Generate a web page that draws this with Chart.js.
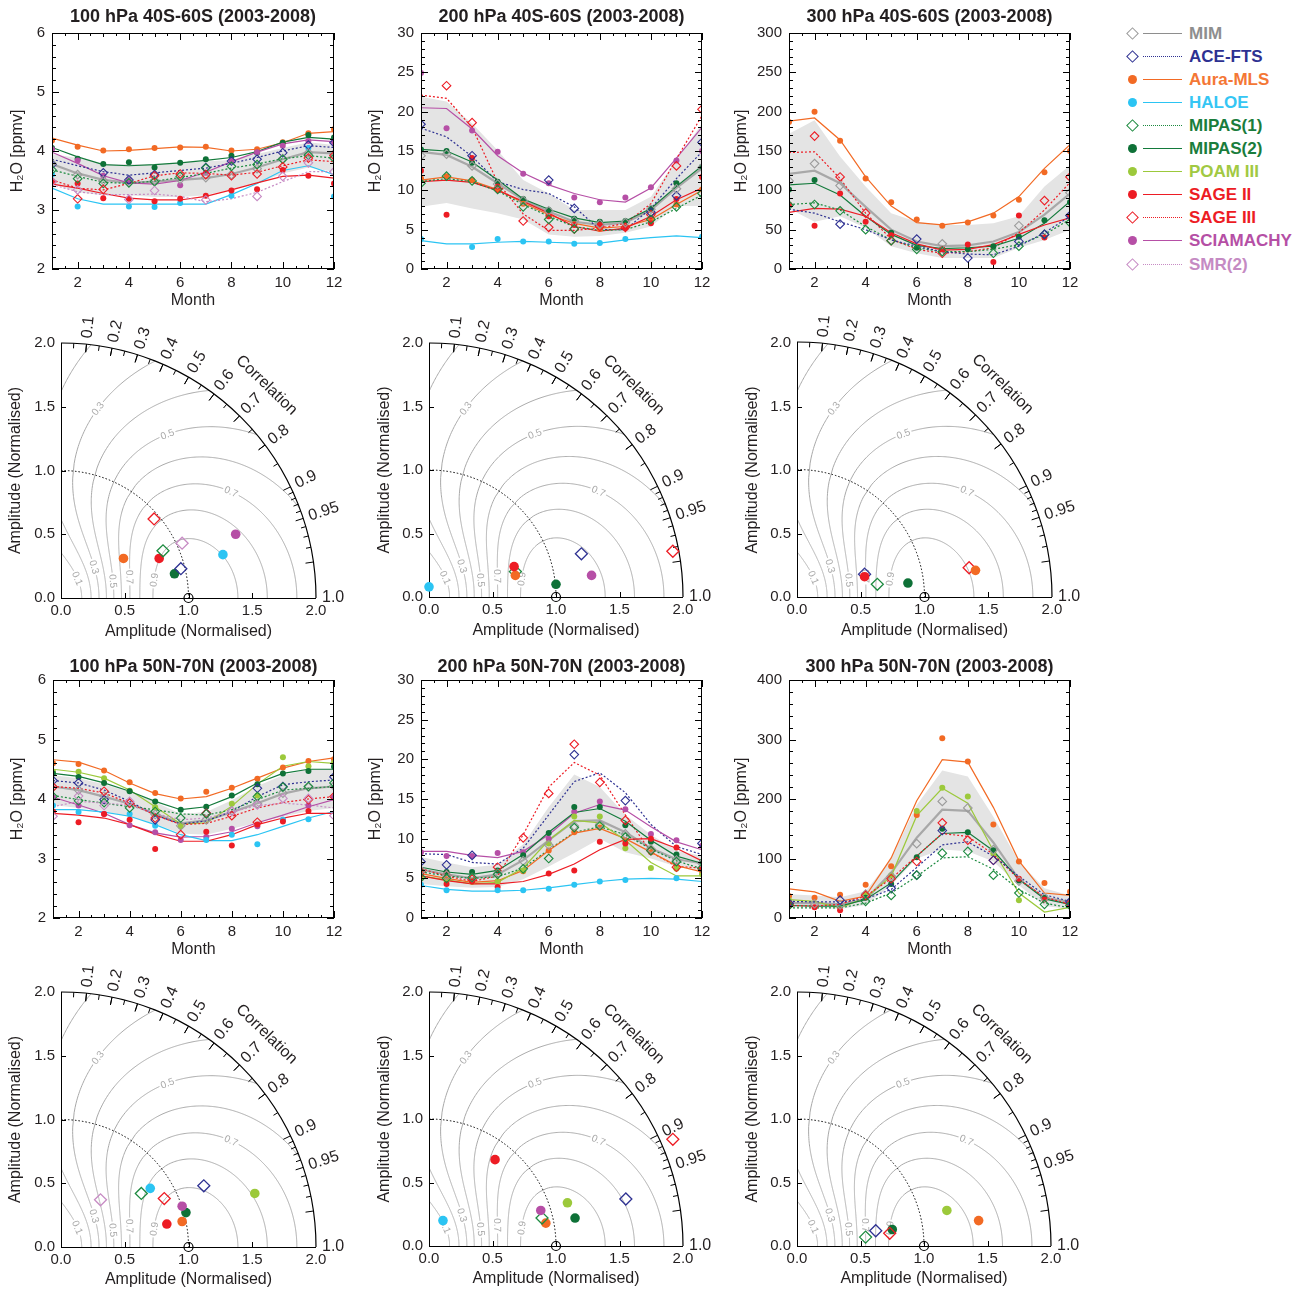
<!DOCTYPE html>
<html><head><meta charset="utf-8">
<script src="https://cdn.jsdelivr.net/npm/chart.js@4.4.1/dist/chart.umd.min.js"></script>
<style>
body{margin:0;background:#fff;}
#page{position:relative;width:1309px;height:1290px;background:#fff;overflow:hidden;font-family:"Liberation Sans",Arial,sans-serif;}
canvas{position:absolute;}
.lg{position:absolute;left:1120px;height:23px;width:190px;}
.lg .ln{position:absolute;left:23px;width:39px;top:11px;height:0;}
.lg .tx{position:absolute;left:69px;top:0;font-weight:bold;font-size:17px;line-height:23px;white-space:nowrap;}
</style></head><body><div id="page"></div>
<script>
// ---------------- data ----------------
const MONTHS = [1,2,3,4,5,6,7,8,9,10,11,12];
const INSTRUMENTS = ['MIM','ACE-FTS','Aura-MLS','HALOE','MIPAS(1)','MIPAS(2)','POAM III','SAGE II','SAGE III','SCIAMACHY','SMR(2)'];

// Panel A: 100 hPa 40S-60S
const A_MIM_fit=[3.78,3.62,3.51,3.46,3.48,3.51,3.54,3.61,3.72,3.86,3.98,3.96];
const A_MIM_obs=[3.79,3.6,3.5,3.47,3.5,3.52,3.55,3.6,3.7,3.87,3.97,3.95];
const A_MIM_hi=[3.95,3.88,3.78,3.78,3.77,3.8,3.82,3.85,3.95,4.05,4.15,4.1];
const A_MIM_lo=[3.45,3.3,3.25,3.25,3.22,3.22,3.25,3.35,3.45,3.62,3.72,3.65];
const A_ACE_fit=[3.86,3.75,3.65,3.59,3.63,3.67,3.71,3.79,3.89,4.0,4.09,4.06];
const A_ACE_obs=[3.77,null,3.63,3.51,3.6,null,3.72,3.83,3.86,3.97,4.1,4.14];
const A_MLS_fit=[4.22,4.1,4.0,4.01,4.04,4.07,4.06,4.0,4.03,4.14,4.3,4.33];
const A_MLS_obs=[4.18,4.07,4.01,4.03,4.05,4.06,4.07,4.01,4.03,4.15,4.3,4.37];
const A_HAL_fit=[3.37,3.19,3.1,3.1,3.1,3.1,3.1,3.26,3.45,3.67,3.75,3.6];
const A_HAL_obs=[3.6,3.06,null,3.06,3.05,3.12,null,3.24,null,null,4.05,3.23];
const A_MP1_fit=[3.68,3.57,3.47,3.45,3.49,3.55,3.62,3.71,3.78,3.87,3.92,3.88];
const A_MP1_obs=[3.68,3.53,3.45,3.46,3.48,3.57,3.71,3.74,3.77,3.86,3.93,3.88];
const A_MP2_fit=[4.06,3.9,3.77,3.75,3.77,3.8,3.84,3.89,3.99,4.15,4.23,4.2];
const A_MP2_obs=[4.05,3.87,3.78,3.81,3.72,3.8,3.86,3.92,3.97,4.14,4.27,4.23];
const A_SG2_fit=[3.44,3.37,3.28,3.2,3.17,3.17,3.23,3.34,3.46,3.57,3.59,3.54];
const A_SG2_obs=[3.48,3.45,3.2,3.19,3.15,3.19,3.24,3.33,3.35,3.68,3.58,3.45];
const A_SG3_fit=[3.51,3.37,3.34,3.45,3.58,3.63,3.62,3.59,3.64,3.75,3.85,3.82];
const A_SG3_obs=[3.48,3.19,3.35,null,3.58,3.61,3.6,3.58,3.61,3.73,3.88,3.92];
const A_SCI_fit=[3.98,3.79,3.58,3.46,3.44,3.5,3.64,3.82,3.98,4.12,4.19,4.16];
const A_SCI_obs=[4.03,3.84,3.58,3.51,null,3.42,3.63,3.83,3.98,4.09,4.17,4.15];
const A_SMR_fit=[3.43,3.31,3.26,3.26,3.27,3.23,3.14,3.19,3.3,3.48,3.65,3.65];
const A_SMR_obs=[3.48,3.34,null,3.18,3.33,null,3.17,null,3.23,3.57,3.8,3.65];

// Panel B: 200 hPa 40S-60S
const B_MIM_fit=[14.9,14.5,13.0,10.9,8.8,7.3,6.0,5.6,5.9,7.5,10.3,12.8];
const B_MIM_obs=[14.4,14.6,13.1,10.8,8.7,7.4,6.1,5.7,5.9,7.6,10.2,12.9];
const B_MIM_hi=[21.9,21.3,18.5,15.1,11.3,9.6,7.5,7.5,7.5,9.2,13.9,18.5];
const B_MIM_lo=[7.9,8.4,7.7,7.1,6.3,4.4,4.1,4.2,4.6,5.4,8.0,8.0];
const B_ACE_fit=[17.9,16.8,14.3,11.1,10.1,9.6,7.9,5.0,5.0,7.7,11.5,14.9];
const B_ACE_obs=[18.4,null,14.4,null,null,11.3,7.7,null,null,7.2,9.3,16.1];
const B_MLS_fit=[11.3,11.7,11.2,10.1,8.4,6.9,5.8,5.2,5.4,6.3,8.2,10.0];
const B_MLS_obs=[11.5,11.8,11.3,10.1,8.3,6.7,5.7,5.1,5.3,6.3,8.2,10.1];
const B_HAL_fit=[3.6,3.2,3.2,3.4,3.5,3.4,3.3,3.3,3.7,4.0,4.2,4.0];
const B_HAL_obs=[3.8,null,2.8,3.8,3.5,3.5,3.2,3.3,3.8,null,null,4.1];
const B_MP1_fit=[11.1,11.5,11.1,9.9,8.2,6.7,5.4,4.9,5.0,6.0,7.7,9.4];
const B_MP1_obs=[10.9,11.8,11.2,10.1,7.9,6.3,5.1,null,null,6.3,7.9,9.6];
const B_MP2_fit=[15.2,15.0,13.6,11.3,8.9,7.6,6.5,5.9,6.1,7.7,10.5,13.1];
const B_MP2_obs=[15.2,15.0,13.5,11.1,8.9,7.5,6.4,6.0,6.1,7.7,10.9,13.0];
const B_SG2_fit=[11.1,11.3,11.0,10.0,8.6,7.1,5.4,4.8,5.2,6.7,8.8,10.3];
const B_SG2_obs=[12.5,6.9,14.1,10.5,null,6.7,5.6,5.6,5.2,5.8,8.9,11.7];
const B_SG3_fit=[22.1,21.7,18.0,11.0,7.0,4.9,4.9,5.2,5.8,8.3,14.0,19.5];
const B_SG3_obs=[null,23.3,18.6,10.2,6.1,5.3,5.1,5.4,5.3,6.9,13.1,20.3];
const B_SCI_fit=[20.5,20.4,17.8,14.4,12.2,10.7,9.6,8.8,8.5,10.3,14.1,18.0];
const B_SCI_obs=[24.9,17.9,17.6,14.9,12.1,10.9,9.1,8.5,9.1,10.4,13.8,15.0];

// Panel C: 300 hPa 40S-60S
const C_MIM_fit=[121,125,109,79,50,35,29,30,35,47,69,96];
const C_MIM_obs=[112,134,106,null,null,null,32,null,null,55,null,97];
const C_MIM_hi=[172,189,143,105,71,60,56,56,58,67,105,132];
const C_MIM_lo=[77,60,67,52,29,20,14,14,14,27,37,50];
const C_ACE_fit=[76,71,60,50,37,29,22,19,18,29,46,67];
const C_ACE_obs=[null,null,57,null,null,38,null,14,null,35,44,68];
const C_MLS_fit=[188,192,164,117,80,59,56,60,71,92,128,158];
const C_MLS_obs=[187,200,163,115,85,63,55,59,68,88,123,150];
const C_MP1_fit=[82,84,75,54,37,27,22,22,25,31,44,63];
const C_MP1_obs=[81,82,74,50,36,25,22,null,20,29,44,59];
const C_MP2_fit=[107,109,94,67,44,30,26,27,29,39,58,86];
const C_MP2_obs=[101,113,null,null,46,27,25,25,29,41,62,85];
const C_SG2_fit=[72,77,76,67,46,32,24,25,31,44,56,65];
const C_SG2_obs=[82,55,96,60,43,null,25,31,9,68,40,67];
const C_SG3_fit=[148,149,115,71,38,25,20,22,27,46,75,110];
const C_SG3_obs=[null,169,117,71,36,null,20,null,null,null,87,117];

// Panel D: 100 hPa 50N-70N
const D_MIM_fit=[4.21,4.15,4.04,3.92,3.75,3.59,3.64,3.78,3.93,4.09,4.18,4.21];
const D_MIM_obs=[4.2,4.15,4.05,3.93,3.74,3.55,3.65,3.8,3.92,4.1,4.2,4.22];
const D_MIM_hi=[4.4,4.35,4.25,4.12,3.95,3.75,3.78,3.98,4.22,4.4,4.5,4.5];
const D_MIM_lo=[3.9,3.85,3.8,3.7,3.58,3.42,3.4,3.5,3.6,3.7,3.8,3.85];
const D_ACE_fit=[4.31,4.27,4.15,3.96,3.73,3.58,3.63,3.79,4.04,4.24,4.29,4.32];
const D_ACE_obs=[4.31,4.27,3.99,null,3.65,null,3.76,null,4.18,4.21,null,4.37];
const D_MLS_fit=[4.66,4.62,4.48,4.27,4.09,4.0,4.04,4.18,4.35,4.52,4.63,4.69];
const D_MLS_obs=[4.6,4.59,4.48,4.28,4.1,4.01,4.12,4.19,4.34,4.53,4.64,4.67];
const D_HAL_fit=[3.82,3.82,3.78,3.71,3.57,3.4,3.3,3.3,3.4,3.54,3.68,3.79];
const D_HAL_obs=[3.89,3.78,null,3.75,3.55,null,3.31,3.4,3.24,3.65,3.66,null];
const D_MP1_fit=[4.06,3.99,3.93,3.87,3.82,3.75,3.73,3.82,3.99,4.15,4.18,4.21];
const D_MP1_obs=[4.04,3.97,3.94,3.85,3.79,3.68,3.75,null,4.04,4.2,4.21,4.27];
const D_MP2_fit=[4.43,4.38,4.27,4.13,3.96,3.82,3.87,4.04,4.27,4.43,4.5,4.5];
const D_MP2_obs=[4.43,4.37,4.27,4.13,3.96,3.82,3.87,4.06,4.25,4.43,4.47,4.54];
const D_POAM_fit=[4.5,4.45,4.35,4.15,3.87,3.58,3.6,3.88,4.25,4.55,4.63,4.6];
const D_POAM_obs=[4.46,4.46,4.35,4.14,3.86,3.54,null,3.92,4.06,4.7,4.55,4.61];
const D_SG2_fit=[3.76,3.73,3.68,3.57,3.41,3.29,3.29,3.4,3.57,3.68,3.76,3.76];
const D_SG2_obs=[3.79,3.61,3.75,3.65,3.16,null,3.45,3.22,3.57,3.62,3.8,null];
const D_SG3_fit=[4.21,4.18,4.1,3.93,3.73,3.57,3.59,3.71,3.85,3.94,4.0,4.04];
const D_SG3_obs=[4.2,null,4.13,3.93,3.68,3.4,3.76,3.72,3.61,null,3.99,4.04];
const D_SCI_fit=[4.03,3.9,3.76,3.57,3.43,3.36,3.37,3.45,3.6,3.73,3.87,3.99];
const D_SCI_obs=[4.03,3.89,3.75,3.56,3.44,3.31,3.36,3.5,3.54,3.65,3.89,4.03];
const D_SMR_fit=[3.87,3.96,3.93,3.9,3.76,3.65,3.68,3.78,3.89,3.93,3.9,3.85];
const D_SMR_obs=[3.71,4.05,3.89,3.96,null,null,null,3.79,3.9,4.01,4.01,3.72];

// Panel E: 200 hPa 50N-70N
const E_MIM_fit=[6.1,5.5,5.0,5.5,7.3,9.8,12.2,12.3,10.8,8.8,7.4,6.9];
const E_MIM_obs=[6.0,5.4,5.1,5.6,7.2,9.2,11.6,11.8,10.6,8.7,7.3,6.9];
const E_MIM_hi=[7.7,7.0,6.4,6.7,9.3,14.0,18.1,16.5,13.0,10.5,8.5,7.8];
const E_MIM_lo=[4.3,4.0,3.8,3.9,4.9,6.5,8.2,10.0,8.3,7.5,6.5,6.0];
const E_ACE_fit=[8.1,8.0,7.0,6.8,8.8,13.0,17.2,18.3,15.8,11.8,9.0,8.0];
const E_ACE_obs=[7.1,6.7,7.9,null,null,null,20.6,null,14.8,null,null,9.4];
const E_MLS_fit=[5.6,5.0,4.5,4.7,6.0,8.5,10.7,11.3,10.0,8.3,6.6,5.8];
const E_MLS_obs=[5.6,4.9,4.6,4.6,5.9,8.5,10.8,11.4,9.8,8.3,6.3,5.9];
const E_HAL_fit=[4.1,3.6,3.4,3.4,3.5,3.8,4.2,4.6,4.9,5.0,4.9,4.6];
const E_HAL_obs=[4.2,3.5,null,3.5,3.5,3.7,4.2,4.6,4.8,null,5.0,null];
const E_MP1_fit=[5.8,5.3,5.0,5.2,6.3,8.6,10.8,11.5,10.5,8.7,7.2,6.2];
const E_MP1_obs=[5.1,5.0,5.1,5.5,6.2,7.5,11.4,11.6,10.2,8.5,7.1,6.3];
const E_MP2_fit=[6.4,5.8,5.5,6.0,8.0,10.8,13.3,13.8,12.2,9.8,7.8,6.9];
const E_MP2_obs=[5.9,5.8,5.8,6.0,7.9,10.7,14.0,14.0,11.7,9.6,8.0,7.1];
const E_POAM_fit=[5.3,4.8,4.3,4.5,6.3,9.8,12.3,12.0,9.8,7.0,5.3,5.3];
const E_POAM_obs=[5.0,4.7,4.6,4.6,6.0,9.4,12.8,12.8,8.8,6.3,6.2,5.5];
const E_SG2_fit=[5.3,4.7,4.3,4.3,4.6,5.5,6.8,8.6,9.9,10.0,8.8,7.2];
const E_SG2_obs=[5.5,4.3,4.6,3.9,null,5.6,6.0,9.6,9.4,10.0,8.9,6.2];
const E_SG3_fit=[6.2,5.3,4.6,5.3,10.5,16.5,19.6,18.0,13.0,8.3,6.5,6.3];
const E_SG3_obs=[5.9,5.4,4.9,6.4,10.1,15.7,21.9,17.1,12.3,8.5,6.4,6.2];
const E_SCI_fit=[8.4,8.4,7.9,7.6,8.4,10.5,13.2,14.3,13.6,11.5,9.6,8.6];
const E_SCI_obs=[8.3,7.8,7.8,8.2,8.3,10.0,13.4,14.7,13.7,10.6,9.8,9.1];

// Panel F: 300 hPa 50N-70N
const F_MIM_fit=[25,25,23,31,76,135,182,180,127,65,34,27];
const F_MIM_obs=[24,24,22,40,70,125,196,185,115,62,34,27];
const F_MIM_hi=[40,38,35,45,100,190,248,238,170,95,50,38];
const F_MIM_lo=[18,18,15,22,55,100,115,112,95,55,20,15];
const F_ACE_fit=[28,27,27,32,48,85,123,128,104,70,39,28];
const F_ACE_obs=[25,null,30,null,50,72,147,null,97,null,null,27];
const F_MLS_fit=[49,44,28,37,101,197,266,262,186,96,42,38];
const F_MLS_obs=[37,34,39,56,87,173,302,263,157,95,59,44];
const F_MP1_fit=[17,17,17,25,42,70,101,103,82,48,25,17];
const F_MP1_obs=[21,null,null,28,38,72,109,112,72,42,23,21];
const F_MP2_fit=[21,20,20,31,59,104,142,144,113,65,32,23];
const F_MP2_obs=[23,null,null,34,57,102,150,144,114,63,34,23];
const F_POAM_fit=[31,28,17,34,70,172,218,193,113,42,10,18];
const F_POAM_obs=[30,null,null,39,72,180,219,204,109,30,null,null];
const F_SG2_obs=[21,18,13,null,null,null,null,null,null,66,31,null];
const F_SG3_fit=[21,20,23,37,66,104,142,137,107,65,35,23];
const F_SG3_obs=[23,null,null,38,66,95,160,131,97,null,null,24];

// Taylor diagrams: normalised amplitude components (x = sigma*R, y = sigma*sqrt(1-R^2))
const T1_NAMES=['SAGE III','SMR(2)','MIPAS(1)','Aura-MLS','SAGE II','ACE-FTS','MIPAS(2)','HALOE','SCIAMACHY'];
const T1_X=[0.73,0.95,0.80,0.49,0.77,0.94,0.89,1.27,1.37];
const T1_Y=[0.62,0.43,0.37,0.31,0.31,0.23,0.19,0.34,0.50];
const T2_NAMES=['HALOE','SAGE II','Aura-MLS','MIPAS(1)','MIPAS(2)','ACE-FTS','SCIAMACHY','SAGE III'];
const T2_X=[0.0,0.67,0.68,0.68,1.0,1.2,1.28,1.92];
const T2_Y=[0.08,0.24,0.17,0.20,0.10,0.34,0.17,0.36];
const T3_NAMES=['SAGE II','ACE-FTS','MIPAS(1)','MIPAS(2)','Aura-MLS','SAGE III'];
const T3_X=[0.53,0.53,0.63,0.87,1.40,1.35];
const T3_Y=[0.16,0.18,0.10,0.11,0.21,0.23];
const T4_NAMES=['SMR(2)','MIPAS(1)','HALOE','SAGE III','ACE-FTS','POAM III','SCIAMACHY','MIPAS(2)','Aura-MLS','SAGE II'];
const T4_X=[0.31,0.63,0.70,0.81,1.12,1.52,0.95,0.98,0.95,0.83];
const T4_Y=[0.37,0.42,0.46,0.38,0.48,0.42,0.32,0.27,0.20,0.18];
const T5_NAMES=['HALOE','SAGE II','SCIAMACHY','MIPAS(1)','Aura-MLS','POAM III','MIPAS(2)','ACE-FTS','SAGE III'];
const T5_X=[0.11,0.52,0.88,0.89,0.92,1.09,1.15,1.55,1.92];
const T5_Y=[0.20,0.68,0.28,0.22,0.18,0.34,0.22,0.37,0.84];
const T6_NAMES=['MIPAS(1)','ACE-FTS','SAGE III','MIPAS(2)','POAM III','Aura-MLS'];
const T6_X=[0.54,0.62,0.73,0.75,1.18,1.43];
const T6_Y=[0.07,0.12,0.10,0.13,0.28,0.20];

const CORR_MAJOR=[0.1,0.2,0.3,0.4,0.5,0.6,0.7,0.8,0.9,0.95,0.99];
const CORR_LABELS=['0.1','0.2','0.3','0.4','0.5','0.6','0.7','0.8','0.9','0.95','1.0'];
const SKILL_LEVELS=[0.1,0.2,0.3,0.4,0.5,0.6,0.7,0.8,0.9];

// ---------------- styles ----------------
const FONT='"Liberation Sans", Arial, sans-serif';
const INK='#231f20';
const STYLE={
 'MIM':{c:'#9b9b9b',line:'#a8a8a8',txt:'#8e8e8e',m:'diamond',dash:false},
 'ACE-FTS':{c:'#2e3192',line:'#2e3192',txt:'#2e3192',m:'diamond',dash:true},
 'Aura-MLS':{c:'#f26a24',line:'#f26a24',txt:'#f47735',m:'dot',dash:false},
 'HALOE':{c:'#2bc4f3',line:'#2bc4f3',txt:'#35c6f4',m:'dot',dash:false},
 'MIPAS(1)':{c:'#1c8a3f',line:'#1c8a3f',txt:'#1a7d3c',m:'diamond',dash:true},
 'MIPAS(2)':{c:'#0e7137',line:'#137a3b',txt:'#1a7d3c',m:'dot',dash:false},
 'POAM III':{c:'#9cc93b',line:'#9cc93b',txt:'#a1c942',m:'dot',dash:false},
 'SAGE II':{c:'#ed1c24',line:'#ed1c24',txt:'#ed1c24',m:'dot',dash:false},
 'SAGE III':{c:'#ed1c24',line:'#ed1c24',txt:'#ed1c24',m:'diamond',dash:true},
 'SCIAMACHY':{c:'#b64fa6',line:'#b64fa6',txt:'#b54fa5',m:'dot',dash:false},
 'SMR(2)':{c:'#c78bc4',line:'#c78bc4',txt:'#c58ac3',m:'diamond',dash:true}
};
const TICK_PX=15, TITLE_PX=16, TITLE_HALF=TITLE_PX*1.2/2;

Chart.defaults.font.family=FONT;
Chart.defaults.color=INK;
Chart.defaults.animation=false;

const page=document.getElementById('page');
function makeCanvas(g){
  const c=document.createElement('canvas');
  c.width=g.w;c.height=g.h;
  c.style.left=g.left+'px';c.style.top=g.top+'px';c.style.width=g.w+'px';c.style.height=g.h+'px';
  page.appendChild(c);return c;
}
const pts=arr=>MONTHS.map((m,i)=>({x:m,y:arr[i]}));
function seg(ctx,x1,y1,x2,y2){ctx.beginPath();ctx.moveTo(x1,y1);ctx.lineTo(x2,y2);ctx.stroke();}

// ---------------- line-panel frame plugin ----------------
const lineFrame={id:'lineFrame',
 afterDatasetsDraw(chart,args,o){
  const {ctx,chartArea:a,scales:{x,y}}=chart;
  ctx.save();
  ctx.strokeStyle='#000';ctx.lineWidth=1;
  ctx.strokeRect(a.left+0.5,a.top+0.5,a.right-a.left-1,a.bottom-a.top-1);
  for(let m=1;m<=12.001;m+=0.5){
    const px=Math.round(x.getPixelForValue(m))+0.5;
    const L=(Math.abs(m%2)<1e-6)?7:((Math.abs(m%1)<1e-6)?4:3);
    seg(ctx,px,a.bottom,px,a.bottom-L);seg(ctx,px,a.top,px,a.top+L);
  }
  const n=Math.round((o.ymax-o.ymin)/o.minor);
  for(let i=0;i<=n;i++){
    const v=o.ymin+i*o.minor;
    const py=Math.round(y.getPixelForValue(v))+0.5;
    const major=o.yticks.some(t=>Math.abs(t-v)<1e-6);
    const L=major?7:4;
    seg(ctx,a.left,py,a.left+L,py);seg(ctx,a.right,py,a.right-L,py);
  }
  ctx.fillStyle=INK;ctx.font='bold 18px '+FONT;ctx.textAlign='center';ctx.textBaseline='middle';
  ctx.fillText(o.title,(a.left+a.right)/2,a.top-o.titleOff);
  ctx.restore();
 }};

function lineChart(g,title,yticks,minor,entries,band){
  const cv=makeCanvas(g);
  const ds=[];
  ds.push({data:pts(band[0]),borderWidth:0,pointRadius:0,fill:false,order:40});
  ds.push({data:pts(band[1]),borderWidth:0,pointRadius:0,fill:'-1',backgroundColor:'#e4e4e4',order:39});
  entries.forEach(([name,fit,obs])=>{
    const st=STYLE[name];
    if(fit) ds.push({data:pts(fit),borderColor:st.line,borderWidth:name==='MIM'?2.2:1.2,borderDash:st.dash?[2,2]:[],
      pointRadius:0,fill:false,tension:0,order:name==='MIM'?30:20});
    const dia=st.m==='diamond';
    ds.push({data:pts(obs),showLine:false,pointStyle:dia?'rectRot':'circle',pointRadius:dia?4.3:3,
      pointBackgroundColor:dia?'rgba(255,255,255,0)':st.c,pointBorderColor:st.c,pointBorderWidth:dia?1.1:0,order:dia?5:10});
  });
  const ymin=yticks[0],ymax=yticks[yticks.length-1];
  new Chart(cv,{type:'line',data:{datasets:ds},
   options:{responsive:false,devicePixelRatio:1,animation:false,
    layout:{padding:{left:0,top:g.area[1]-g.top,right:g.left+g.w-g.area[2],bottom:0}},
    plugins:{legend:{display:false},tooltip:{enabled:false},
      lineFrame:{title,titleOff:g.titleOff,yticks,minor,ymin,ymax}},
    scales:{
     x:{type:'linear',min:1,max:12,
       afterBuildTicks:s=>{s.ticks=[2,4,6,8,10,12].map(v=>({value:v}));},
       afterFit:s=>{s.height=g.xH;s.paddingLeft=0;s.paddingRight=0;},
       grid:{display:false,drawTicks:false},border:{display:false},
       ticks:{font:{size:TICK_PX,family:FONT},color:INK,padding:5,maxRotation:0,autoSkip:false},
       title:{display:true,text:'Month',font:{size:TITLE_PX,family:FONT},color:INK,padding:{top:0,bottom:0}}},
     y:{type:'linear',min:ymin,max:ymax,
       afterBuildTicks:s=>{s.ticks=yticks.map(v=>({value:v}));},
       afterFit:s=>{s.width=g.area[0]-g.left;s.paddingTop=0;s.paddingBottom=0;},
       grid:{display:false,drawTicks:false},border:{display:false},
       ticks:{font:{size:TICK_PX,family:FONT},color:INK,padding:7,autoSkip:false,callback:v=>String(v)},
       title:{display:true,text:'H₂O [ppmv]',font:{size:TITLE_PX,family:FONT},color:INK,
         padding:{top:g.yTitleX-g.left-TITLE_HALF,bottom:0}}}
    }},
   plugins:[lineFrame]});
}

// ---------------- Taylor plugin ----------------
const taylorGrid={id:'taylorGrid',
 beforeDatasetsDraw(chart){
  const {ctx,scales:{x,y}}=chart;
  const ox=x.getPixelForValue(0),oy=y.getPixelForValue(0);
  const R2=x.getPixelForValue(2)-ox;
  const P=(s,th)=>[x.getPixelForValue(s*Math.cos(th)),y.getPixelForValue(s*Math.sin(th))];
  const N=500;
  function branches(S){
    const lo=[],up=[];
    for(let i=0;i<=N;i++){
      const th=i/N*Math.PI/2,R=Math.cos(th),k=(1+R)/Math.sqrt(S);
      if(k<2) continue;
      const d=Math.sqrt(k*k-4);
      lo.push([(k-d)/2,th]);up.push([(k+d)/2,th]);
    }
    return {lo,up};
  }
  ctx.save();
  ctx.beginPath();ctx.moveTo(ox,oy);ctx.arc(ox,oy,R2,-Math.PI/2,0);ctx.closePath();ctx.clip();
  ctx.strokeStyle='#a9a9a9';ctx.lineWidth=1;
  SKILL_LEVELS.forEach(S=>{
    const {lo,up}=branches(S);
    const closed=lo.length&&lo[lo.length-1][1]<Math.PI/2-1e-6;
    if(closed){
      const path=lo.concat(up.slice().reverse());
      ctx.beginPath();path.forEach((p,i)=>{const q=P(p[0],p[1]);i?ctx.lineTo(q[0],q[1]):ctx.moveTo(q[0],q[1]);});ctx.stroke();
    }else{
      [lo,up].forEach(br=>{ctx.beginPath();br.forEach((p,i)=>{const q=P(p[0],p[1]);i?ctx.lineTo(q[0],q[1]):ctx.moveTo(q[0],q[1]);});ctx.stroke();});
    }
  });
  ctx.restore();
  // contour labels
  const LBL=[[0.1,'lo',50],[0.3,'lo',43],[0.5,'lo',18],[0.7,'lo',17],[0.9,'lo',11],[0.3,'up',79],[0.5,'up',57],[0.7,'up',32]];
  ctx.save();ctx.font='10px '+FONT;ctx.textAlign='center';ctx.textBaseline='middle';
  LBL.forEach(([S,br,deg])=>{
    const sig=(th)=>{const k=(1+Math.cos(th))/Math.sqrt(S),d=Math.sqrt(Math.max(k*k-4,0));return br==='lo'?(k-d)/2:(k+d)/2;};
    const th=deg*Math.PI/180,dt=0.01;
    const p=P(sig(th),th),p1=P(sig(th-dt),th-dt),p2=P(sig(th+dt),th+dt);
    let ang=Math.atan2(p2[1]-p1[1],p2[0]-p1[0]);
    if(ang>Math.PI/2) ang-=Math.PI; if(ang<-Math.PI/2) ang+=Math.PI;
    ctx.save();ctx.translate(p[0],p[1]);ctx.rotate(ang);
    const t=S.toFixed(1),w=ctx.measureText(t).width;
    ctx.fillStyle='#fff';ctx.fillRect(-w/2-1.5,-5,w+3,10);
    ctx.fillStyle='#a9a9a9';ctx.fillText(t,0,0.5);ctx.restore();
  });
  ctx.restore();
  // dotted unit arc
  ctx.save();ctx.strokeStyle='#000';ctx.lineWidth=1;ctx.setLineDash([1.5,2]);
  ctx.beginPath();ctx.arc(ox,oy,x.getPixelForValue(1)-ox,-Math.PI/2,0);ctx.stroke();ctx.restore();
  // outer arc + axes
  ctx.save();ctx.strokeStyle='#000';ctx.lineWidth=1.2;
  ctx.beginPath();ctx.arc(ox,oy,R2,-Math.PI/2,0);ctx.stroke();
  ctx.lineWidth=1;
  seg(ctx,ox+0.5,oy,ox+0.5,oy-R2);seg(ctx,ox,oy+0.5,ox+R2,oy+0.5);
  [0.5,1,1.5].forEach(v=>{const px=Math.round(x.getPixelForValue(v))+0.5;seg(ctx,px,oy,px,oy-5);
    const py=Math.round(y.getPixelForValue(v))+0.5;seg(ctx,ox,py,ox+5,py);});
  // correlation ticks
  const ticks=[];
  for(let c=0.05;c<0.9;c+=0.05) ticks.push([c,Math.abs((c*10)%1)<1e-6||Math.abs((c*10)%1-1)<1e-6]);
  CORR_MAJOR.forEach(c=>ticks.push([c,true]));
  [0.91,0.92,0.93,0.94,0.96,0.97,0.98].forEach(c=>ticks.push([c,false]));
  ticks.forEach(([c,maj])=>{const th=Math.acos(c),L=maj?8:5;
    seg(ctx,ox+R2*Math.cos(th),oy-R2*Math.sin(th),ox+(R2-L)*Math.cos(th),oy-(R2-L)*Math.sin(th));});
  // correlation labels
  ctx.fillStyle=INK;ctx.font='16px '+FONT;ctx.textAlign='left';ctx.textBaseline='middle';
  const LC=CORR_MAJOR.slice(0,10).concat([1.0]);
  LC.forEach((c,i)=>{const th=Math.acos(c),r=R2+6;
    ctx.save();ctx.translate(ox+r*Math.cos(th),oy-r*Math.sin(th));ctx.rotate(-th);ctx.fillText(CORR_LABELS[i],0,0);ctx.restore();});
  const thc=46*Math.PI/180,rc=R2*1.16;
  ctx.save();ctx.translate(ox+rc*Math.cos(thc),oy-rc*Math.sin(thc));ctx.rotate(Math.PI/2-thc);
  ctx.textAlign='center';ctx.fillText('Correlation',0,0);ctx.restore();
  // reference point
  ctx.lineWidth=1.2;ctx.beginPath();ctx.arc(x.getPixelForValue(1),oy,4.5,0,Math.PI*2);ctx.stroke();
  ctx.restore();
 }};

function taylorChart(g,names,xs,ys){
  const cv=makeCanvas(g);
  const ds=names.map((n,i)=>{const st=STYLE[n],dia=st.m==='diamond';
    return {label:n,data:[{x:xs[i],y:ys[i]}],pointStyle:dia?'rectRot':'circle',pointRadius:dia?6:4.8,
      pointBackgroundColor:dia?'rgba(255,255,255,0)':st.c,pointBorderColor:st.c,pointBorderWidth:dia?1.3:0,clip:false};});
  const axis=(isX)=>({type:'linear',min:0,max:2,
     afterBuildTicks:s=>{s.ticks=[0,0.5,1,1.5,2].map(v=>({value:v}));},
     afterFit:isX?(s=>{s.height=g.xH;s.paddingLeft=0;s.paddingRight=0;}):(s=>{s.width=g.area[0]-g.left;s.paddingTop=0;s.paddingBottom=0;}),
     grid:{display:false,drawTicks:false},border:{display:false},
     ticks:{font:{size:TICK_PX,family:FONT},color:INK,padding:isX?4:6,maxRotation:0,autoSkip:false,callback:v=>Number(v).toFixed(1)},
     title:{display:true,text:'Amplitude (Normalised)',font:{size:TITLE_PX,family:FONT},color:INK,
       padding:isX?{top:0,bottom:0}:{top:g.yTitleX-g.left-TITLE_HALF,bottom:0}}});
  new Chart(cv,{type:'scatter',data:{datasets:ds},
   options:{responsive:false,devicePixelRatio:1,animation:false,
    layout:{padding:{left:0,top:g.area[1]-g.top,right:g.left+g.w-g.area[2],bottom:0}},
    plugins:{legend:{display:false},tooltip:{enabled:false}},
    scales:{x:axis(true),y:axis(false)}},
   plugins:[taylorGrid]});
}

// ---------------- build panels ----------------
lineChart({left:0,top:0,w:360,h:310,area:[52,33,334,269],xH:41,yTitleX:18,titleOff:16},
 '100 hPa 40S-60S (2003-2008)',[2,3,4,5,6],0.2,
 [['SMR(2)',A_SMR_fit,A_SMR_obs],['SAGE II',A_SG2_fit,A_SG2_obs],['HALOE',A_HAL_fit,A_HAL_obs],['SAGE III',A_SG3_fit,A_SG3_obs],
  ['MIPAS(1)',A_MP1_fit,A_MP1_obs],['MIM',A_MIM_fit,A_MIM_obs],['ACE-FTS',A_ACE_fit,A_ACE_obs],['SCIAMACHY',A_SCI_fit,A_SCI_obs],
  ['MIPAS(2)',A_MP2_fit,A_MP2_obs],['Aura-MLS',A_MLS_fit,A_MLS_obs]],[A_MIM_hi,A_MIM_lo]);
lineChart({left:362,top:0,w:365,h:310,area:[421,33,702,269],xH:41,yTitleX:376,titleOff:16},
 '200 hPa 40S-60S (2003-2008)',[0,5,10,15,20,25,30],1,
 [['HALOE',B_HAL_fit,B_HAL_obs],['MIPAS(1)',B_MP1_fit,B_MP1_obs],['SAGE II',B_SG2_fit,B_SG2_obs],['Aura-MLS',B_MLS_fit,B_MLS_obs],
  ['MIM',B_MIM_fit,B_MIM_obs],['MIPAS(2)',B_MP2_fit,B_MP2_obs],['ACE-FTS',B_ACE_fit,B_ACE_obs],['SAGE III',B_SG3_fit,B_SG3_obs],
  ['SCIAMACHY',B_SCI_fit,B_SCI_obs]],[B_MIM_hi,B_MIM_lo]);
lineChart({left:730,top:0,w:365,h:310,area:[789,33,1070,269],xH:41,yTitleX:742,titleOff:16},
 '300 hPa 40S-60S (2003-2008)',[0,50,100,150,200,250,300],10,
 [['ACE-FTS',C_ACE_fit,C_ACE_obs],['MIPAS(1)',C_MP1_fit,C_MP1_obs],['SAGE II',C_SG2_fit,C_SG2_obs],['MIPAS(2)',C_MP2_fit,C_MP2_obs],
  ['MIM',C_MIM_fit,C_MIM_obs],['SAGE III',C_SG3_fit,C_SG3_obs],['Aura-MLS',C_MLS_fit,C_MLS_obs]],[C_MIM_hi,C_MIM_lo]);

lineChart({left:0,top:645,w:360,h:314,area:[53,680,334,918],xH:41,yTitleX:18,titleOff:13},
 '100 hPa 50N-70N (2003-2008)',[2,3,4,5,6],0.2,
 [['SAGE II',D_SG2_fit,D_SG2_obs],['HALOE',D_HAL_fit,D_HAL_obs],['SCIAMACHY',D_SCI_fit,D_SCI_obs],['SMR(2)',D_SMR_fit,D_SMR_obs],
  ['MIPAS(1)',D_MP1_fit,D_MP1_obs],['SAGE III',D_SG3_fit,D_SG3_obs],['MIM',D_MIM_fit,D_MIM_obs],['ACE-FTS',D_ACE_fit,D_ACE_obs],
  ['MIPAS(2)',D_MP2_fit,D_MP2_obs],['POAM III',D_POAM_fit,D_POAM_obs],['Aura-MLS',D_MLS_fit,D_MLS_obs]],[D_MIM_hi,D_MIM_lo]);
lineChart({left:362,top:645,w:365,h:314,area:[421,680,702,918],xH:41,yTitleX:376,titleOff:13},
 '200 hPa 50N-70N (2003-2008)',[0,5,10,15,20,25,30],1,
 [['HALOE',E_HAL_fit,E_HAL_obs],['SAGE II',E_SG2_fit,E_SG2_obs],['POAM III',E_POAM_fit,E_POAM_obs],['Aura-MLS',E_MLS_fit,E_MLS_obs],
  ['MIPAS(1)',E_MP1_fit,E_MP1_obs],['MIM',E_MIM_fit,E_MIM_obs],['MIPAS(2)',E_MP2_fit,E_MP2_obs],['SCIAMACHY',E_SCI_fit,E_SCI_obs],
  ['ACE-FTS',E_ACE_fit,E_ACE_obs],['SAGE III',E_SG3_fit,E_SG3_obs]],[E_MIM_hi,E_MIM_lo]);
lineChart({left:730,top:645,w:365,h:314,area:[789,680,1070,918],xH:41,yTitleX:742,titleOff:13},
 '300 hPa 50N-70N (2003-2008)',[0,100,200,300,400],20,
 [['SAGE II',null,F_SG2_obs],['MIPAS(1)',F_MP1_fit,F_MP1_obs],['ACE-FTS',F_ACE_fit,F_ACE_obs],['SAGE III',F_SG3_fit,F_SG3_obs],
  ['MIPAS(2)',F_MP2_fit,F_MP2_obs],['MIM',F_MIM_fit,F_MIM_obs],['POAM III',F_POAM_fit,F_POAM_obs],['Aura-MLS',F_MLS_fit,F_MLS_obs]],[F_MIM_hi,F_MIM_lo]);

taylorChart({left:0,top:300,w:365,h:341,area:[61,343,316,598],xH:43,yTitleX:16},T1_NAMES,T1_X,T1_Y);
taylorChart({left:365,top:300,w:365,h:340,area:[429,343,683,597],xH:43,yTitleX:385},T2_NAMES,T2_X,T2_Y);
taylorChart({left:733,top:300,w:365,h:340,area:[797,343,1052,597],xH:43,yTitleX:753},T3_NAMES,T3_X,T3_Y);
taylorChart({left:0,top:950,w:365,h:339,area:[61,992,316,1247],xH:42,yTitleX:16},T4_NAMES,T4_X,T4_Y);
taylorChart({left:365,top:950,w:365,h:338,area:[429,992,683,1246],xH:42,yTitleX:385},T5_NAMES,T5_X,T5_Y);
taylorChart({left:733,top:950,w:365,h:338,area:[797,992,1051,1246],xH:42,yTitleX:753},T6_NAMES,T6_X,T6_Y);

// ---------------- legend ----------------
INSTRUMENTS.forEach((n,i)=>{
  const st=STYLE[n];
  const row=document.createElement('div');row.className='lg';row.style.top=(21.5+i*23.1)+'px';
  const mk=document.createElement('span');
  if(st.m==='diamond'){mk.style.cssText=`position:absolute;left:8px;top:7px;width:7px;height:7px;border:1.3px solid ${st.c};transform:rotate(45deg);box-sizing:content-box;`;}
  else{mk.style.cssText=`position:absolute;left:7.5px;top:7px;width:9px;height:9px;border-radius:50%;background:${st.c};`;}
  const ln=document.createElement('span');ln.className='ln';
  ln.style.borderTop=`1.4px ${st.dash?'dotted':'solid'} ${n==='MIM'?'#8e8e8e':st.line}`;
  const tx=document.createElement('span');tx.className='tx';tx.style.color=st.txt;tx.textContent=n;
  row.appendChild(mk);row.appendChild(ln);row.appendChild(tx);page.appendChild(row);
});
</script>
</body></html>
